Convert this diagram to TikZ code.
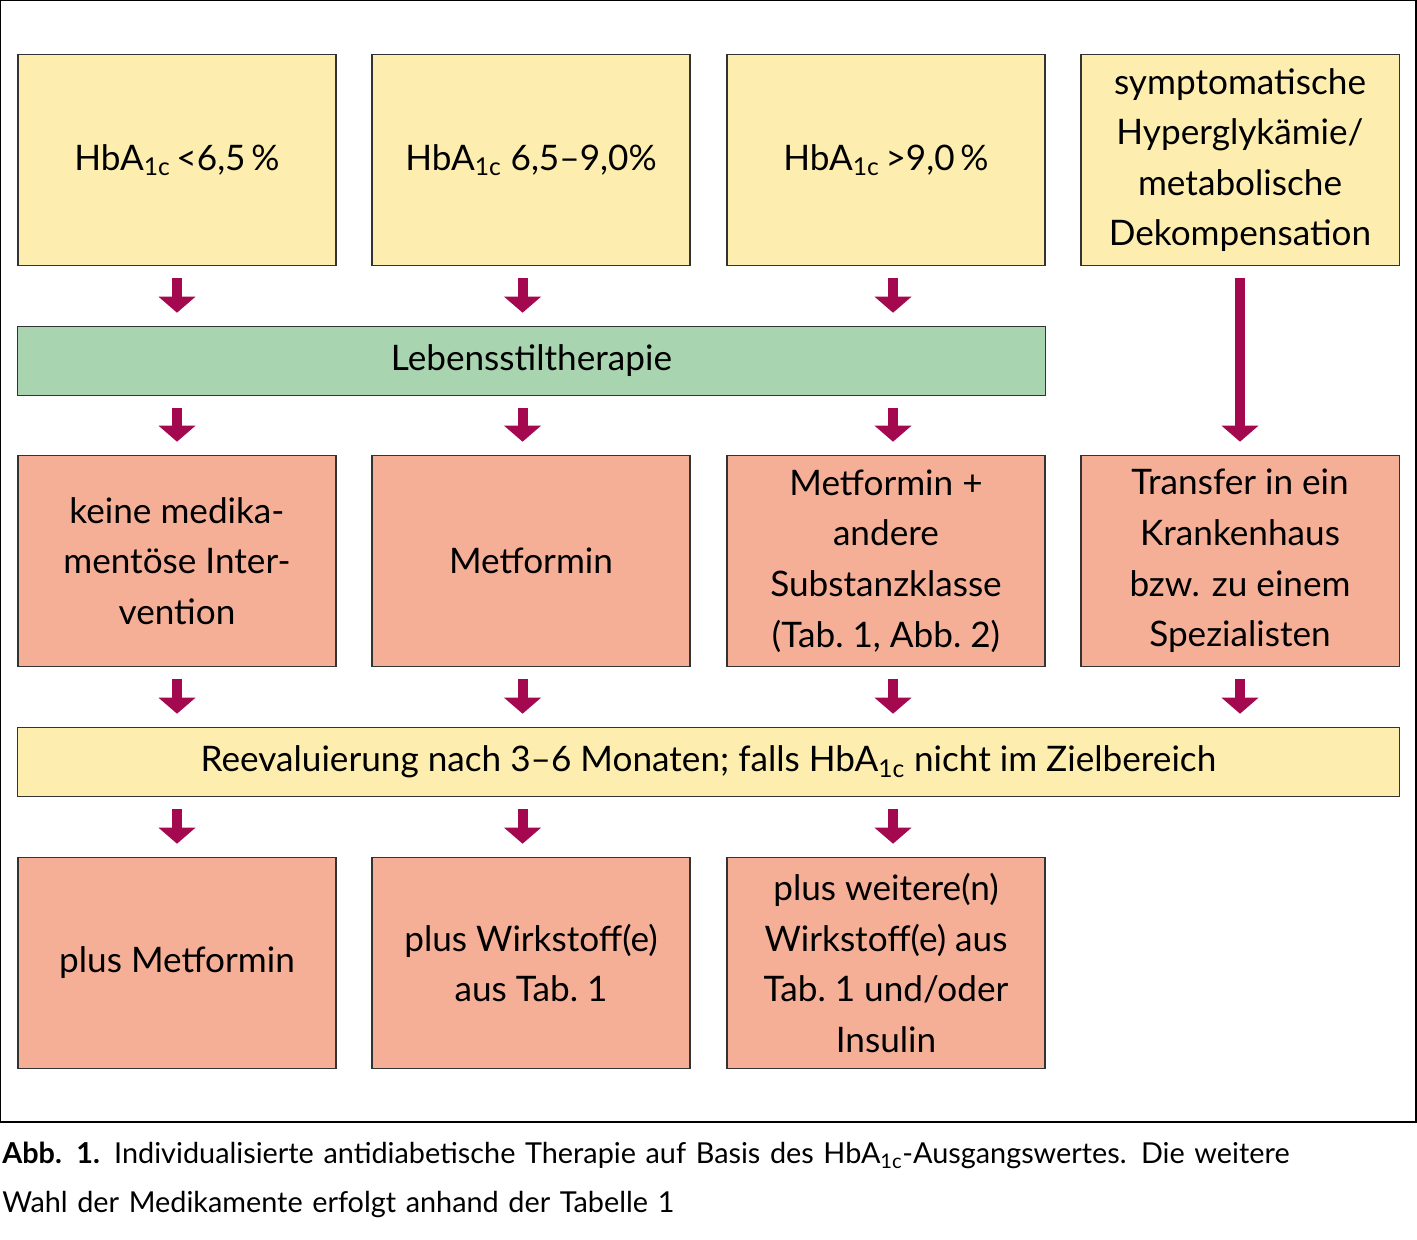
\documentclass[tikz,border=0pt]{standalone}
\usepackage{fontspec}
\setmainfont{Lato}
\usetikzlibrary{positioning,calc,arrows.meta}
\definecolor{boxyellow}{HTML}{FDEEAF}
\definecolor{boxgreen}{HTML}{A8D4AF}
\definecolor{boxred}{HTML}{F5AF96}
\definecolor{arrowred}{HTML}{A4094F}
\tikzset{
  box/.style={draw=black!80,line width=0.8pt,minimum width=7.95cm,minimum height=5.275cm,
    align=center,font=\fontsize{25}{36}\selectfont,inner sep=0pt},
  bar/.style={draw=black!80,line width=0.8pt,minimum height=1.725cm,
    align=center,font=\fontsize{25}{36}\selectfont,inner sep=0pt},
  flow/.style={draw=arrowred,line width=0.25cm,-{Triangle[length=0.4cm,width=0.9cm]},
    shorten <=0.3cm,shorten >=0.33cm},
}
\newcommand{\hba}{HbA\textsubscript{1c}}
\begin{document}
\begin{tikzpicture}[x=0.025cm,y=-0.025cm]
  \useasboundingbox (0,0) rectangle (1417,1239);
  \draw[line width=0.8pt] (0,0) rectangle (1416,1122);
  % top row
  \node[box,fill=boxyellow] (a1) at (177,160) {\hba\,<6,5\,\%};
  \node[box,fill=boxyellow] (a2) at (531,160) {\hba\ 6,5--9,0\%};
  \node[box,fill=boxyellow] (a3) at (886,160) {\hba\,>9,0\,\%};
  \node[box,fill=boxyellow] (a4) at (1240,160) {symptomatische\\Hyperglykämie/\\metabolische\\Dekompensation};
  % lifestyle bar
  \node[bar,fill=boxgreen,minimum width=25.675cm] (life) at (531.5,361) {Lebensstiltherapie};
  % middle row
  \node[box,fill=boxred] (b1) at (177,561) {keine medika-\\mentöse Inter-\\vention};
  \node[box,fill=boxred] (b2) at (531,561) {Metformin};
  \node[box,fill=boxred] (b3) at (886,561) {Metformin +\\andere\\Substanzklasse\\(Tab.~1, Abb.~2)};
  \node[box,fill=boxred] (b4) at (1240,561) {Transfer in ein\\Krankenhaus\\bzw. zu einem\\Spezialisten};
  % reevaluation bar
  \node[bar,fill=boxyellow,minimum width=34.525cm] (reev) at (708.5,762) {Reevaluierung nach 3--6 Monaten; falls \hba\ nicht im Zielbereich};
  % bottom row
  \node[box,fill=boxred] (c1) at (177,963) {plus Metformin};
  \node[box,fill=boxred] (c2) at (531,963) {plus Wirkstoff(e)\\aus Tab.~1};
  \node[box,fill=boxred] (c3) at (886,963) {plus weitere(n)\\Wirkstoff(e) aus\\Tab.~1 und/oder\\Insulin};
  % arrows
  \draw[flow] (a1.south) -- (a1.south |- life.north);
  \draw[flow] ([xshift=-6]a2.south) -- ([xshift=-6]a2.south |- life.north);
  \draw[flow] ([xshift=5]a3.south) -- ([xshift=5]a3.south |- life.north);
  \draw[flow] (b1.north |- life.south) -- (b1.north);
  \draw[flow] ([xshift=-6]b2.north |- life.south) -- ([xshift=-6]b2.north);
  \draw[flow] ([xshift=5]b3.north |- life.south) -- ([xshift=5]b3.north);
  \draw[flow] (a4.south) -- (b4.north);
  \draw[flow] (b1.south) -- (b1.south |- reev.north);
  \draw[flow] ([xshift=-6]b2.south) -- ([xshift=-6]b2.south |- reev.north);
  \draw[flow] ([xshift=5]b3.south) -- ([xshift=5]b3.south |- reev.north);
  \draw[flow] (b4.south) -- (b4.south |- reev.north);
  \draw[flow] (c1.north |- reev.south) -- (c1.north);
  \draw[flow] ([xshift=-6]c2.north |- reev.south) -- ([xshift=-6]c2.north);
  \draw[flow] ([xshift=5]c3.north |- reev.south) -- ([xshift=5]c3.north);
  % caption
  \node[anchor=north west,align=left,inner sep=0pt,text width=35.3cm,
    font=\fontsize{20.5}{35}\selectfont] (cap) at (2,1142)
    {\textbf{Abb. 1.} Individualisierte antidiabetische Therapie auf Basis des \hba-Ausgangswertes. Die weitere\\Wahl der Medikamente erfolgt anhand der Tabelle 1};
\end{tikzpicture}
\end{document}
